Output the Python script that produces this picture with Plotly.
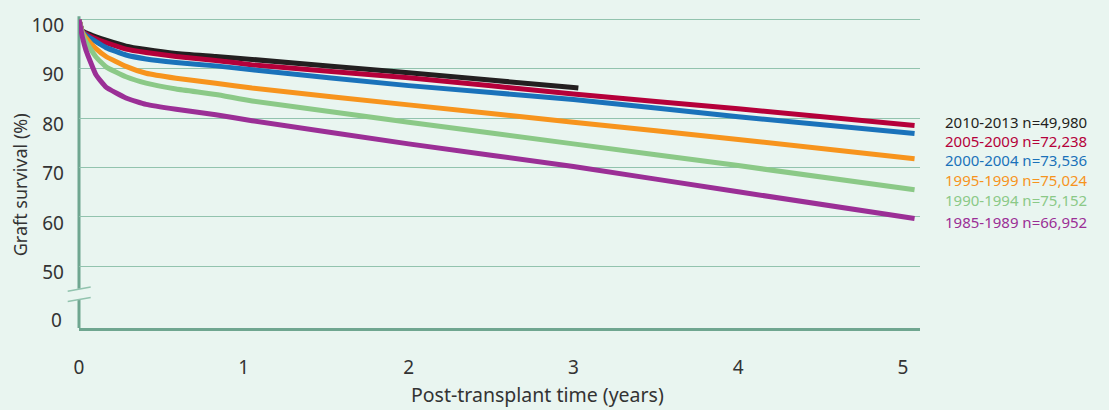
import plotly.graph_objects as go

# ---- data ----
t_full = [0, 0.02, 0.042, 0.103, 0.164, 0.285, 0.407, 0.589, 0.83, 1.05, 2, 3, 4, 5.07]
t_black = [0, 0.02, 0.042, 0.103, 0.164, 0.285, 0.407, 0.589, 0.83, 1.05, 2, 3, 3.03]

s_2010 = [100, 97.7, 97.3, 96.5, 95.8, 94.6, 93.9, 93.1, 92.5, 91.9, 89.2, 86.2, 86.1]
s_2005 = [100, 97.6, 97.1, 96.1, 95.3, 94.0, 93.3, 92.5, 91.7, 90.8, 88.2, 84.9, 81.9, 78.5]
s_2000 = [100, 97.5, 96.8, 95.5, 94.3, 92.8, 92.0, 91.3, 90.6, 89.8, 86.6, 83.8, 80.3, 76.9]
s_1995 = [100, 97.4, 96.3, 94.1, 92.5, 90.5, 89.1, 88.1, 87.1, 86.1, 82.7, 79.2, 75.7, 71.8]
s_1990 = [100, 97.2, 95.5, 92.4, 90.4, 88.4, 87.1, 85.9, 84.8, 83.5, 79.2, 74.8, 70.4, 65.5]
s_1985 = [100, 96.5, 93.8, 88.8, 86.3, 84.1, 82.8, 81.8, 80.7, 79.5, 74.8, 70.2, 65.1, 59.7]

series_labels = ["2010-2013 n=49,980", "2005-2009 n=72,238", "2000-2004 n=73,536",
                 "1995-1999 n=75,024", "1990-1994 n=75,152", "1985-1989 n=66,952"]
series_colors = ["#231f20", "#b5003a", "#1a72ba", "#f7941d", "#8bc987", "#9b2f96"]
y_ticks = [50, 60, 70, 80, 90, 100]
x_ticks = [0, 1, 2, 3, 4, 5]

BG = "#e9f5f0"
GRID = "#92c3ae"
AXIS = "#6fa690"
TXT = "#333333"
FONT = "Noto Sans"

fig = go.Figure()
series = [(t_black, s_2010), (t_full, s_2005), (t_full, s_2000),
          (t_full, s_1995), (t_full, s_1990), (t_full, s_1985)]
for (tx, sy), lab, col in zip(series, series_labels, series_colors):
    fig.add_trace(go.Scatter(x=tx, y=sy, mode="lines", name=lab,
                             line=dict(color=col, width=5, shape="spline", smoothing=0.4),
                             hoverinfo="skip", showlegend=False))

# legend as coloured text on the right
legend_py = [119, 138, 157, 178, 198, 220]
H = 315.0
for lab, col, py in zip(series_labels, series_colors, legend_py):
    fig.add_annotation(xref="paper", yref="paper", x=(944 - 79) / 841, y=(328 - py) / H,
                       xanchor="left", yanchor="middle", showarrow=False, borderpad=0,
                       text=lab, font=dict(family=FONT, size=15, color=col))

# fake "0" tick below the axis break
fig.add_annotation(xref="paper", yref="paper", x=(64 - 79) / 841, y=(328 - 320) / H,
                   xanchor="right", yanchor="middle", showarrow=False,
                   text="0", font=dict(family=FONT, size=19, color=TXT))

# axis titles
fig.add_annotation(xref="paper", yref="paper", x=(20 - 79) / 841, y=(328 - 183) / H,
                   xanchor="center", yanchor="middle", showarrow=False, textangle=-90,
                   text="Graft survival (%)", font=dict(family=FONT, size=18, color=TXT))
fig.add_annotation(xref="paper", yref="paper", x=(537 - 79) / 841, y=(328 - 396) / H,
                   xanchor="center", yanchor="middle", showarrow=False,
                   text="Post-transplant time (years)", font=dict(family=FONT, size=19.5, color=TXT))

# left axis line with a break
fig.add_shape(type="line", xref="paper", yref="paper", x0=0, x1=0,
              y0=(328 - 288) / H, y1=1.006, line=dict(color=AXIS, width=3), layer="below")
fig.add_shape(type="line", xref="paper", yref="paper", x0=0, x1=0,
              y0=0, y1=(328 - 299) / H, line=dict(color=AXIS, width=3), layer="below")
# break marks
for ya, yb in [(290.7, 286.3), (301, 297)]:
    fig.add_shape(type="line", xref="paper", yref="paper",
                  x0=(67.7 - 79) / 841, x1=(90.7 - 79) / 841,
                  y0=(328 - ya) / H, y1=(328 - yb) / H,
                  line=dict(color=GRID, width=1.5))

fig.update_layout(
    width=1109, height=410,
    margin=dict(l=79, r=189, t=13, b=82),
    paper_bgcolor=BG, plot_bgcolor=BG,
    font=dict(family=FONT, color=TXT),
    showlegend=False,
)
fig.update_xaxes(range=[0, 5.103], tickvals=x_ticks, showgrid=False, zeroline=False,
                 showline=True, linecolor=AXIS, linewidth=3,
                 tickfont=dict(family=FONT, size=19, color=TXT),
                 ticks="", ticklabelstandoff=20)
fig.update_yaxes(range=[37.5, 100.3], tickvals=y_ticks, showgrid=True, gridcolor=GRID,
                 gridwidth=1.3, zeroline=False, showline=False,
                 tickfont=dict(family=FONT, size=19, color=TXT),
                 ticks="", ticklabelstandoff=14, ticklabelshift=6)

fig.write_html("out.html", config={"displayModeBar": False},
               post_script="document.body.style.margin='0';document.body.style.background='" + BG + "';")
